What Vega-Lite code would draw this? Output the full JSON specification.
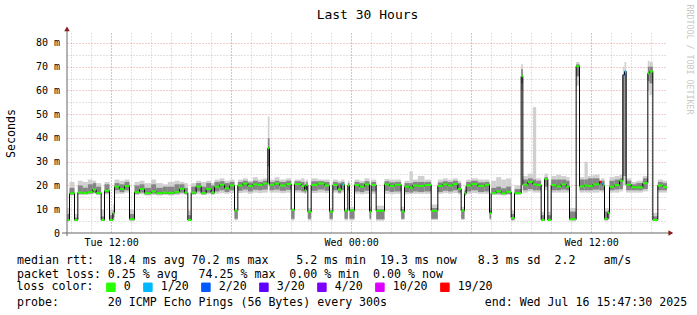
{
  "$schema": "https://vega.github.io/schema/vega-lite/v6.json",
  "width": 600,
  "height": 200,
  "autosize": "none",
  "padding": {"left": 67, "top": 33, "right": 30, "bottom": 82},
  "background": "white",
  "config": {"view": {"stroke": null}, "font": "DejaVu Sans Mono"},
  "data": {
    "format": {"parse": {"t": "utc:'%Y-%m-%d %H:%M'", "e": "utc:'%Y-%m-%d %H:%M'"}},
    "values": [
      {"t":"2025-07-15 09:45","e":"2025-07-15 09:55","m":5.5,"lo":5,"a":5.3,"b":8,"hi":10.5,"l":"0"},
      {"t":"2025-07-15 09:55","e":"2025-07-15 10:10","m":16.7,"lo":15.8,"a":16.2,"b":19,"hi":21.5,"l":"0"},
      {"t":"2025-07-15 10:10","e":"2025-07-15 10:20","m":5.5,"lo":5,"a":5.3,"b":6.5,"hi":8,"l":"0"},
      {"t":"2025-07-15 10:20","e":"2025-07-15 10:35","m":17,"lo":16,"a":16.5,"b":20,"hi":22,"l":"0"},
      {"t":"2025-07-15 10:35","e":"2025-07-15 10:50","m":16.8,"lo":16,"a":16.4,"b":19,"hi":21.5,"l":"0"},
      {"t":"2025-07-15 10:50","e":"2025-07-15 11:05","m":17.2,"lo":16.2,"a":16.6,"b":20.5,"hi":22.5,"l":"0"},
      {"t":"2025-07-15 11:05","e":"2025-07-15 11:15","m":18.3,"lo":16.5,"a":17,"b":21,"hi":22,"l":"0"},
      {"t":"2025-07-15 11:15","e":"2025-07-15 11:30","m":16.8,"lo":16,"a":16.3,"b":19.5,"hi":21,"l":"0"},
      {"t":"2025-07-15 11:30","e":"2025-07-15 11:40","m":5.5,"lo":5,"a":5.3,"b":7,"hi":10,"l":"0"},
      {"t":"2025-07-15 11:40","e":"2025-07-15 11:55","m":17.8,"lo":16.2,"a":16.8,"b":20.5,"hi":21.5,"l":"0"},
      {"t":"2025-07-15 11:55","e":"2025-07-15 12:05","m":5.5,"lo":5,"a":5.3,"b":7.5,"hi":10,"l":"0"},
      {"t":"2025-07-15 12:05","e":"2025-07-15 12:10","m":8.4,"lo":5.5,"a":6.5,"b":9.5,"hi":12,"l":"0"},
      {"t":"2025-07-15 12:10","e":"2025-07-15 12:25","m":19.5,"lo":16.5,"a":18,"b":21,"hi":22.5,"l":"0"},
      {"t":"2025-07-15 12:25","e":"2025-07-15 12:40","m":18.5,"lo":16.5,"a":17.2,"b":20.5,"hi":22,"l":"0"},
      {"t":"2025-07-15 12:40","e":"2025-07-15 12:55","m":19.8,"lo":17,"a":18,"b":21.5,"hi":22.5,"l":"0"},
      {"t":"2025-07-15 12:55","e":"2025-07-15 13:10","m":5.8,"lo":5,"a":5.4,"b":8,"hi":10,"l":"0"},
      {"t":"2025-07-15 13:10","e":"2025-07-15 13:25","m":17.2,"lo":16,"a":16.5,"b":20,"hi":21.5,"l":"0"},
      {"t":"2025-07-15 13:25","e":"2025-07-15 13:40","m":18.5,"lo":16.3,"a":17,"b":20.5,"hi":22,"l":"0"},
      {"t":"2025-07-15 13:40","e":"2025-07-15 14:00","m":16.8,"lo":15.8,"a":16.2,"b":19,"hi":21,"l":"0"},
      {"t":"2025-07-15 14:00","e":"2025-07-15 14:15","m":17.5,"lo":16,"a":16.6,"b":20.5,"hi":22.5,"l":"0"},
      {"t":"2025-07-15 14:15","e":"2025-07-15 14:35","m":16.8,"lo":15.8,"a":16.3,"b":19,"hi":21,"l":"0"},
      {"t":"2025-07-15 14:35","e":"2025-07-15 14:50","m":17,"lo":16,"a":16.4,"b":19.5,"hi":20.5,"l":"0"},
      {"t":"2025-07-15 14:50","e":"2025-07-15 15:10","m":16.9,"lo":15.8,"a":16.3,"b":19.5,"hi":21.5,"l":"0"},
      {"t":"2025-07-15 15:10","e":"2025-07-15 15:25","m":17.3,"lo":16,"a":16.6,"b":20.5,"hi":22,"l":"0"},
      {"t":"2025-07-15 15:25","e":"2025-07-15 15:40","m":18.6,"lo":16.3,"a":17,"b":20.5,"hi":21.5,"l":"0"},
      {"t":"2025-07-15 15:40","e":"2025-07-15 15:50","m":17,"lo":16,"a":16.4,"b":19,"hi":21,"l":"0"},
      {"t":"2025-07-15 15:50","e":"2025-07-15 16:00","m":5.5,"lo":5,"a":5.3,"b":7.5,"hi":9.5,"l":"0"},
      {"t":"2025-07-15 16:00","e":"2025-07-15 16:15","m":17,"lo":16,"a":16.4,"b":19.5,"hi":21,"l":"0"},
      {"t":"2025-07-15 16:15","e":"2025-07-15 16:30","m":19.6,"lo":16.5,"a":17.5,"b":21,"hi":22,"l":"0"},
      {"t":"2025-07-15 16:30","e":"2025-07-15 16:45","m":16.8,"lo":16,"a":16.3,"b":19.5,"hi":21.5,"l":"0"},
      {"t":"2025-07-15 16:45","e":"2025-07-15 17:00","m":18.5,"lo":16.3,"a":17,"b":21,"hi":22,"l":"0"},
      {"t":"2025-07-15 17:00","e":"2025-07-15 17:10","m":17,"lo":16,"a":16.4,"b":20,"hi":21,"l":"0"},
      {"t":"2025-07-15 17:10","e":"2025-07-15 17:25","m":19.5,"lo":16.5,"a":17.5,"b":21.5,"hi":22.5,"l":"0"},
      {"t":"2025-07-15 17:25","e":"2025-07-15 17:40","m":20.3,"lo":16.8,"a":18,"b":21.8,"hi":23,"l":"0"},
      {"t":"2025-07-15 17:40","e":"2025-07-15 17:55","m":18.8,"lo":16.5,"a":17.3,"b":21,"hi":22,"l":"0"},
      {"t":"2025-07-15 17:55","e":"2025-07-15 18:10","m":20,"lo":16.8,"a":18,"b":21.5,"hi":22.5,"l":"0"},
      {"t":"2025-07-15 18:10","e":"2025-07-15 18:20","m":9.4,"lo":5.3,"a":6,"b":9.5,"hi":10.5,"l":"0"},
      {"t":"2025-07-15 18:20","e":"2025-07-15 18:35","m":20,"lo":16.8,"a":17.8,"b":21.5,"hi":22.5,"l":"0"},
      {"t":"2025-07-15 18:35","e":"2025-07-15 18:50","m":20.8,"lo":17,"a":18.3,"b":22,"hi":23,"l":"0"},
      {"t":"2025-07-15 18:50","e":"2025-07-15 19:05","m":19.8,"lo":16.5,"a":17.5,"b":21.3,"hi":22,"l":"0"},
      {"t":"2025-07-15 19:05","e":"2025-07-15 19:20","m":20.5,"lo":17,"a":18.2,"b":22,"hi":23.5,"l":"0"},
      {"t":"2025-07-15 19:20","e":"2025-07-15 19:35","m":20.2,"lo":16.8,"a":18,"b":21.5,"hi":22.5,"l":"0"},
      {"t":"2025-07-15 19:35","e":"2025-07-15 19:50","m":20.8,"lo":17,"a":18.3,"b":22,"hi":23,"l":"0"},
      {"t":"2025-07-15 19:50","e":"2025-07-15 19:55","m":35.7,"lo":20,"a":28,"b":40,"hi":49,"l":"0"},
      {"t":"2025-07-15 19:55","e":"2025-07-15 20:10","m":20.3,"lo":17,"a":18,"b":21.5,"hi":22.5,"l":"0"},
      {"t":"2025-07-15 20:10","e":"2025-07-15 20:25","m":20.8,"lo":17,"a":18.3,"b":22,"hi":23.5,"l":"0"},
      {"t":"2025-07-15 20:25","e":"2025-07-15 20:45","m":20,"lo":16.8,"a":17.8,"b":21.5,"hi":22.5,"l":"0"},
      {"t":"2025-07-15 20:45","e":"2025-07-15 21:00","m":20.6,"lo":17,"a":18.2,"b":22,"hi":23,"l":"0"},
      {"t":"2025-07-15 21:00","e":"2025-07-15 21:10","m":9.7,"lo":5.3,"a":6,"b":9.5,"hi":10.5,"l":"0"},
      {"t":"2025-07-15 21:10","e":"2025-07-15 21:30","m":20.6,"lo":17,"a":18,"b":21.8,"hi":22.5,"l":"0"},
      {"t":"2025-07-15 21:30","e":"2025-07-15 21:40","m":19.8,"lo":16.8,"a":17.5,"b":21.5,"hi":23,"l":"0"},
      {"t":"2025-07-15 21:40","e":"2025-07-15 21:45","m":18,"lo":16.5,"a":17,"b":20.5,"hi":22,"l":"0"},
      {"t":"2025-07-15 21:45","e":"2025-07-15 21:50","m":20.2,"lo":17,"a":18,"b":21.5,"hi":22.5,"l":"0"},
      {"t":"2025-07-15 21:50","e":"2025-07-15 22:00","m":9,"lo":5.3,"a":6,"b":9.5,"hi":10.5,"l":"0"},
      {"t":"2025-07-15 22:00","e":"2025-07-15 22:20","m":20.2,"lo":16.8,"a":17.8,"b":21.8,"hi":23,"l":"0"},
      {"t":"2025-07-15 22:20","e":"2025-07-15 22:40","m":20.8,"lo":17,"a":18.3,"b":21.8,"hi":22.5,"l":"0"},
      {"t":"2025-07-15 22:40","e":"2025-07-15 22:55","m":20,"lo":16.8,"a":17.8,"b":21.5,"hi":22.5,"l":"0"},
      {"t":"2025-07-15 22:55","e":"2025-07-15 23:05","m":9,"lo":5.3,"a":6,"b":9.5,"hi":10.5,"l":"0"},
      {"t":"2025-07-15 23:05","e":"2025-07-15 23:20","m":20.2,"lo":17,"a":18,"b":21.5,"hi":22.5,"l":"0"},
      {"t":"2025-07-15 23:20","e":"2025-07-15 23:30","m":18.3,"lo":16.5,"a":17,"b":21,"hi":22,"l":"0"},
      {"t":"2025-07-15 23:30","e":"2025-07-15 23:35","m":20.5,"lo":17,"a":18,"b":21.5,"hi":22.5,"l":"1/20"},
      {"t":"2025-07-15 23:35","e":"2025-07-15 23:40","m":20.3,"lo":17,"a":18,"b":21.5,"hi":22.5,"l":"0"},
      {"t":"2025-07-15 23:40","e":"2025-07-15 23:50","m":9.3,"lo":5.3,"a":6,"b":9.5,"hi":10.5,"l":"0"},
      {"t":"2025-07-15 23:50","e":"2025-07-15 23:55","m":20,"lo":17,"a":18,"b":21,"hi":22,"l":"0"},
      {"t":"2025-07-15 23:55","e":"2025-07-16 00:10","m":9.5,"lo":5.3,"a":6,"b":10,"hi":11,"l":"0"},
      {"t":"2025-07-16 00:10","e":"2025-07-16 00:25","m":20.2,"lo":16.5,"a":17.5,"b":21.5,"hi":22.5,"l":"0"},
      {"t":"2025-07-16 00:25","e":"2025-07-16 00:40","m":19.5,"lo":16.3,"a":17.2,"b":21,"hi":22,"l":"0"},
      {"t":"2025-07-16 00:40","e":"2025-07-16 00:55","m":20.5,"lo":16.5,"a":17.8,"b":21.8,"hi":23,"l":"0"},
      {"t":"2025-07-16 00:55","e":"2025-07-16 01:00","m":9,"lo":5.5,"a":6,"b":10,"hi":11,"l":"0"},
      {"t":"2025-07-16 01:00","e":"2025-07-16 01:15","m":20.2,"lo":16.5,"a":17.5,"b":21.5,"hi":22.5,"l":"0"},
      {"t":"2025-07-16 01:15","e":"2025-07-16 01:40","m":9.3,"lo":5.2,"a":5.8,"b":10,"hi":11.5,"l":"0"},
      {"t":"2025-07-16 01:40","e":"2025-07-16 01:55","m":20.5,"lo":16.5,"a":17.8,"b":21.8,"hi":22.8,"l":"0"},
      {"t":"2025-07-16 01:55","e":"2025-07-16 02:10","m":19.8,"lo":16.3,"a":17.3,"b":21.3,"hi":22.5,"l":"0"},
      {"t":"2025-07-16 02:10","e":"2025-07-16 02:30","m":20.3,"lo":16.5,"a":17.5,"b":21.5,"hi":22.5,"l":"0"},
      {"t":"2025-07-16 02:30","e":"2025-07-16 02:40","m":9,"lo":5.5,"a":6,"b":10,"hi":11,"l":"0"},
      {"t":"2025-07-16 02:40","e":"2025-07-16 02:55","m":19.5,"lo":16.3,"a":17.2,"b":21,"hi":22,"l":"0"},
      {"t":"2025-07-16 02:55","e":"2025-07-16 03:05","m":19,"lo":16.3,"a":17,"b":21,"hi":26,"l":"0"},
      {"t":"2025-07-16 03:05","e":"2025-07-16 03:20","m":20,"lo":16.5,"a":17.5,"b":21.5,"hi":22.5,"l":"0"},
      {"t":"2025-07-16 03:20","e":"2025-07-16 03:40","m":19.8,"lo":16.5,"a":17.3,"b":21.5,"hi":24,"l":"0"},
      {"t":"2025-07-16 03:40","e":"2025-07-16 04:00","m":20.2,"lo":16.5,"a":17.5,"b":21.5,"hi":22.5,"l":"0"},
      {"t":"2025-07-16 04:00","e":"2025-07-16 04:20","m":9.3,"lo":5.5,"a":6,"b":10.5,"hi":12,"l":"0"},
      {"t":"2025-07-16 04:20","e":"2025-07-16 04:35","m":19.8,"lo":16.5,"a":17.3,"b":21.3,"hi":22.5,"l":"0"},
      {"t":"2025-07-16 04:35","e":"2025-07-16 04:50","m":20.5,"lo":16.8,"a":17.8,"b":21.8,"hi":23,"l":"0"},
      {"t":"2025-07-16 04:50","e":"2025-07-16 05:05","m":20,"lo":16.5,"a":17.5,"b":21.5,"hi":22.5,"l":"0"},
      {"t":"2025-07-16 05:05","e":"2025-07-16 05:20","m":20.6,"lo":16.8,"a":18,"b":22,"hi":23,"l":"0"},
      {"t":"2025-07-16 05:20","e":"2025-07-16 05:30","m":18.5,"lo":16.3,"a":17,"b":21,"hi":22,"l":"0"},
      {"t":"2025-07-16 05:30","e":"2025-07-16 05:40","m":9.4,"lo":5.5,"a":6,"b":10,"hi":11,"l":"0"},
      {"t":"2025-07-16 05:40","e":"2025-07-16 05:45","m":16.7,"lo":15.5,"a":16,"b":18,"hi":19,"l":"0"},
      {"t":"2025-07-16 05:45","e":"2025-07-16 06:00","m":20,"lo":16.5,"a":17.5,"b":21.5,"hi":22.5,"l":"0"},
      {"t":"2025-07-16 06:00","e":"2025-07-16 06:20","m":20.6,"lo":16.8,"a":18,"b":22,"hi":23,"l":"0"},
      {"t":"2025-07-16 06:20","e":"2025-07-16 06:40","m":19.8,"lo":16.5,"a":17.3,"b":21.3,"hi":22.5,"l":"0"},
      {"t":"2025-07-16 06:40","e":"2025-07-16 06:55","m":20.3,"lo":16.5,"a":17.5,"b":21.5,"hi":22.5,"l":"0"},
      {"t":"2025-07-16 06:55","e":"2025-07-16 07:00","m":8.4,"lo":5.5,"a":6,"b":9.5,"hi":10.5,"l":"0"},
      {"t":"2025-07-16 07:00","e":"2025-07-16 07:15","m":16.8,"lo":16,"a":16.4,"b":19,"hi":22,"l":"0"},
      {"t":"2025-07-16 07:15","e":"2025-07-16 07:30","m":17.5,"lo":16,"a":16.6,"b":19.5,"hi":23.5,"l":"0"},
      {"t":"2025-07-16 07:30","e":"2025-07-16 07:45","m":16.7,"lo":15.8,"a":16.3,"b":18.8,"hi":22.5,"l":"0"},
      {"t":"2025-07-16 07:45","e":"2025-07-16 08:00","m":17.3,"lo":16,"a":16.5,"b":19.5,"hi":23,"l":"0"},
      {"t":"2025-07-16 08:00","e":"2025-07-16 08:10","m":6.3,"lo":5,"a":5.5,"b":8,"hi":9.5,"l":"0"},
      {"t":"2025-07-16 08:10","e":"2025-07-16 08:30","m":16.8,"lo":16,"a":16.4,"b":18.5,"hi":20,"l":"0"},
      {"t":"2025-07-16 08:30","e":"2025-07-16 08:35","m":66,"lo":60,"a":63,"b":69,"hi":71,"l":"0"},
      {"t":"2025-07-16 08:35","e":"2025-07-16 08:50","m":20.3,"lo":17,"a":18,"b":22.5,"hi":24,"l":"0"},
      {"t":"2025-07-16 08:50","e":"2025-07-16 09:05","m":21.5,"lo":17.5,"a":18.5,"b":23,"hi":25,"l":"0"},
      {"t":"2025-07-16 09:05","e":"2025-07-16 09:15","m":20.5,"lo":17,"a":18,"b":22.5,"hi":53,"l":"0"},
      {"t":"2025-07-16 09:15","e":"2025-07-16 09:30","m":20.2,"lo":17,"a":18,"b":22,"hi":23,"l":"0"},
      {"t":"2025-07-16 09:30","e":"2025-07-16 09:40","m":5.5,"lo":5,"a":5.3,"b":7.5,"hi":9,"l":"0"},
      {"t":"2025-07-16 09:40","e":"2025-07-16 09:50","m":22.7,"lo":18,"a":19.5,"b":23.5,"hi":25,"l":"0"},
      {"t":"2025-07-16 09:50","e":"2025-07-16 10:00","m":5.5,"lo":5,"a":5.3,"b":7.5,"hi":9,"l":"0"},
      {"t":"2025-07-16 10:00","e":"2025-07-16 10:15","m":20.2,"lo":17,"a":18,"b":22.5,"hi":24,"l":"0"},
      {"t":"2025-07-16 10:15","e":"2025-07-16 10:30","m":19.6,"lo":17,"a":18,"b":22.5,"hi":24.5,"l":"0"},
      {"t":"2025-07-16 10:30","e":"2025-07-16 10:45","m":20.5,"lo":17,"a":18.3,"b":22.5,"hi":24,"l":"0"},
      {"t":"2025-07-16 10:45","e":"2025-07-16 10:55","m":19.5,"lo":17,"a":18,"b":22,"hi":23.5,"l":"0"},
      {"t":"2025-07-16 10:55","e":"2025-07-16 11:15","m":5.8,"lo":5,"a":5.5,"b":9,"hi":10.5,"l":"0"},
      {"t":"2025-07-16 11:15","e":"2025-07-16 11:25","m":70.2,"lo":62,"a":66,"b":71,"hi":72,"l":"0"},
      {"t":"2025-07-16 11:25","e":"2025-07-16 11:40","m":19.6,"lo":17,"a":18,"b":22.5,"hi":23.5,"l":"0"},
      {"t":"2025-07-16 11:40","e":"2025-07-16 11:50","m":20,"lo":17,"a":18,"b":22.5,"hi":30,"l":"0"},
      {"t":"2025-07-16 11:50","e":"2025-07-16 12:05","m":19.8,"lo":17,"a":18,"b":23,"hi":24,"l":"0"},
      {"t":"2025-07-16 12:05","e":"2025-07-16 12:25","m":20.5,"lo":17,"a":18.3,"b":23,"hi":24.5,"l":"0"},
      {"t":"2025-07-16 12:25","e":"2025-07-16 12:30","m":21.6,"lo":17.5,"a":18,"b":21.6,"hi":22,"l":"19/20"},
      {"t":"2025-07-16 12:30","e":"2025-07-16 12:35","m":20.8,"lo":17,"a":18,"b":22,"hi":23,"l":"1/20"},
      {"t":"2025-07-16 12:35","e":"2025-07-16 12:40","m":20,"lo":17,"a":18,"b":22,"hi":23,"l":"0"},
      {"t":"2025-07-16 12:40","e":"2025-07-16 12:50","m":6,"lo":5,"a":5.5,"b":9,"hi":10.5,"l":"0"},
      {"t":"2025-07-16 12:50","e":"2025-07-16 12:55","m":8.5,"lo":5.5,"a":6,"b":9.5,"hi":10.5,"l":"0"},
      {"t":"2025-07-16 12:55","e":"2025-07-16 13:10","m":19.5,"lo":17,"a":18,"b":22,"hi":23.5,"l":"0"},
      {"t":"2025-07-16 13:10","e":"2025-07-16 13:25","m":20.2,"lo":17,"a":18.3,"b":22.5,"hi":24,"l":"0"},
      {"t":"2025-07-16 13:25","e":"2025-07-16 13:35","m":22,"lo":17.5,"a":18.5,"b":23,"hi":24.5,"l":"0"},
      {"t":"2025-07-16 13:35","e":"2025-07-16 13:40","m":66.5,"lo":20,"a":24,"b":66,"hi":70,"l":"2/20"},
      {"t":"2025-07-16 13:40","e":"2025-07-16 13:45","m":68,"lo":20,"a":24,"b":67,"hi":72,"l":"1/20"},
      {"t":"2025-07-16 13:45","e":"2025-07-16 14:00","m":20.3,"lo":17,"a":18,"b":22,"hi":23,"l":"0"},
      {"t":"2025-07-16 14:00","e":"2025-07-16 14:15","m":19.3,"lo":17,"a":18,"b":20.5,"hi":21.5,"l":"0"},
      {"t":"2025-07-16 14:15","e":"2025-07-16 14:35","m":19.2,"lo":17,"a":18,"b":21,"hi":22,"l":"0"},
      {"t":"2025-07-16 14:35","e":"2025-07-16 14:50","m":21,"lo":17.5,"a":18.5,"b":23,"hi":24,"l":"0"},
      {"t":"2025-07-16 14:50","e":"2025-07-16 14:55","m":67.2,"lo":60,"a":64,"b":70,"hi":72.5,"l":"0"},
      {"t":"2025-07-16 14:55","e":"2025-07-16 15:05","m":68,"lo":58,"a":63,"b":70,"hi":72,"l":"0"},
      {"t":"2025-07-16 15:05","e":"2025-07-16 15:20","m":5.5,"lo":5,"a":5.3,"b":7,"hi":8.5,"l":"0"},
      {"t":"2025-07-16 15:20","e":"2025-07-16 15:35","m":20,"lo":17,"a":18,"b":21.5,"hi":22.5,"l":"0"},
      {"t":"2025-07-16 15:35","e":"2025-07-16 15:50","m":19.3,"lo":17,"a":18,"b":21,"hi":22,"l":"0"}
    ]
  },
  "layer": [
    {
      "mark": {"type": "rect", "color": "#d0d0d0", "clip": true},
      "encoding": {
        "x": {"field": "t", "type": "temporal",
          "scale": {"type": "utc", "domain": [1752572850000, 1752680850000]},
          "axis": {"orient": "bottom", "grid": true, "gridColor": "#c4c4c4", "gridDash": [1, 2], "gridWidth": 1,
            "values": [1752573600000, 1752577200000, 1752580800000, 1752584400000, 1752588000000, 1752591600000, 1752595200000, 1752598800000, 1752602400000, 1752606000000, 1752609600000, 1752613200000, 1752616800000, 1752620400000, 1752624000000, 1752627600000, 1752631200000, 1752634800000, 1752638400000, 1752642000000, 1752645600000, 1752649200000, 1752652800000, 1752656400000, 1752660000000, 1752663600000, 1752667200000, 1752670800000, 1752674400000, 1752678000000],
            "labels": false, "ticks": false, "domain": false, "title": null}},
        "x2": {"field": "e"},
        "y": {"field": "lo", "type": "quantitative",
          "scale": {"domain": [0, 84.2], "nice": false, "zero": false},
          "axis": {"orient": "left", "grid": true, "gridColor": "#c4c4c4", "gridDash": [1, 2], "gridWidth": 1, "values": [5, 15, 25, 35, 45, 55, 65, 75], "labels": false, "ticks": false, "domain": false, "title": null}},
        "y2": {"field": "hi"}
      }
    },
    {
      "mark": {"type": "rect", "color": "#858585", "clip": true},
      "encoding": {
        "x": {"field": "t", "type": "temporal",
          "scale": {"type": "utc", "domain": [1752572850000, 1752680850000]},
          "axis": {"orient": "bottom", "grid": true, "gridColor": "#e49a9a", "gridDash": [1, 2], "gridWidth": 1,
            "values": [1752580800000, 1752602400000, 1752624000000, 1752645600000, 1752667200000],
            "labels": false, "ticks": false, "domain": false, "title": null}},
        "x2": {"field": "e"},
        "y": {"field": "a", "type": "quantitative",
          "scale": {"domain": [0, 84.2], "nice": false, "zero": false},
          "axis": {"orient": "left", "grid": true, "gridColor": "#e49a9a", "gridDash": [1, 2], "gridWidth": 1, "values": [10, 20, 30, 40, 50, 60, 70, 80], "labels": false, "ticks": false, "domain": false, "title": null}},
        "y2": {"field": "b"}
      }
    },
    {
      "mark": {"type": "line", "interpolate": "step-after", "color": "#000000", "strokeWidth": 1, "clip": true},
      "encoding": {
        "x": {"field": "t", "type": "temporal",
          "scale": {"type": "utc", "domain": [1752572850000, 1752680850000]},
          "axis": {"orient": "bottom", "grid": false, "values": [1752580800000, 1752624000000, 1752667200000], "labelExpr": "utcFormat(datum.value, '%a %H:%M')", "labelFont": "DejaVu Sans Mono", "labelFontSize": 10, "labelColor": "#000", "labelPadding": 4, "labelFlush": false, "labelOverlap": false, "ticks": false, "domain": false, "title": null}},
        "y": {"field": "m", "type": "quantitative",
          "scale": {"domain": [0, 84.2], "nice": false, "zero": false},
          "axis": {"orient": "left", "grid": false, "values": [0, 10, 20, 30, 40, 50, 60, 70, 80], "labelExpr": "datum.value == 0 ? '0\u00a0\u00a0' : datum.value + ' m'", "labelFont": "DejaVu Sans Mono", "labelFontSize": 10, "labelColor": "#000", "labelPadding": 7.5, "ticks": false, "domain": false,
            "title": "Seconds", "titleFont": "DejaVu Sans Mono", "titleFontSize": 11.6, "titleFontWeight": "normal", "titleColor": "#000", "titleAngle": -90, "titleX": -56, "titleY": 100, "titleAlign": "center", "titleBaseline": "middle"}}
      }
    },
    {
      "mark": {"type": "rule", "strokeWidth": 2, "clip": true},
      "encoding": {
        "x": {"field": "t", "type": "temporal",
          "scale": {"type": "utc", "domain": [1752572850000, 1752680850000]},
          "axis": null},
        "x2": {"field": "e"},
        "y": {"field": "m", "type": "quantitative",
          "scale": {"domain": [0, 84.2], "nice": false, "zero": false},
          "axis": {"orient": "right", "grid": false, "labels": false, "ticks": false, "domain": false,
            "title": "RRDTOOL / TOBI OETIKER", "titleFont": "DejaVu Sans Mono", "titleFontSize": 8.3, "titleFontWeight": "normal", "titleColor": "#c8c8c8", "titleAngle": 90, "titleX": 21, "titleY": 26, "titleAlign": "center", "titleBaseline": "middle"}},
        "color": {"field": "l", "type": "nominal",
          "scale": {"domain": ["0", "1/20", "2/20", "3/20", "4/20", "10/20", "19/20"], "range": ["#26ff00", "#00b8ff", "#0059ff", "#5e00ff", "#7e00ff", "#dd00ff", "#ff0000"]},
          "legend": {"orient": "none", "legendX": -50.4, "legendY": 248, "direction": "horizontal", "title": "loss color:", "titleOrient": "left", "titleFont": "DejaVu Sans Mono", "titleFontSize": 11.6, "titleFontWeight": "normal", "titleColor": "#000", "titlePadding": 11.5, "titleBaseline": "middle",
            "labelFont": "DejaVu Sans Mono", "labelFontSize": 11.6, "labelColor": "#000", "labelOffset": 7,
            "symbolType": "square", "symbolSize": 72, "columnPadding": 10, "padding": 0,
            "encode": {"symbols": {"update": {"fill": {"scale": "color", "field": "value"}, "stroke": {"value": "#000"}, "strokeWidth": {"value": 1}, "opacity": {"value": 1}}}}}}
      }
    },
    {
      "data": {"values": [{}]},
      "mark": {"type": "rule", "color": "#666666", "strokeWidth": 1},
      "encoding": {
        "x": {"datum": 1752572850000, "type": "temporal", "scale": {"type": "utc", "domain": [1752572850000, 1752680850000]},
          "axis": {"orient": "bottom", "grid": false, "labels": false, "ticks": false, "domain": false, "values": [1752580800000],
            "title": ["median\u00a0rtt:\u00a0\u00a018.4\u00a0ms\u00a0avg\u00a070.2\u00a0ms\u00a0max\u00a0\u00a0\u00a0\u00a05.2\u00a0ms\u00a0min\u00a0\u00a019.3\u00a0ms\u00a0now\u00a0\u00a0\u00a08.3\u00a0ms\u00a0sd\u00a0\u00a02.2\u00a0\u00a0\u00a0\u00a0am/s", "packet\u00a0loss:\u00a00.25\u00a0%\u00a0avg\u00a0\u00a0\u00a074.25\u00a0%\u00a0max\u00a0\u00a00.00\u00a0%\u00a0min\u00a0\u00a00.00\u00a0%\u00a0now"],
            "titleFont": "DejaVu Sans Mono", "titleFontSize": 11.6, "titleFontWeight": "normal", "titleColor": "#000", "titleX": -50.4, "titleY": 30, "titleAlign": "left", "titleBaseline": "alphabetic", "titleLineHeight": 14}},
        "y": {"datum": -1.3, "type": "quantitative", "scale": {"domain": [0, 84.2], "nice": false, "zero": false}, "axis": null},
        "y2": {"datum": 86}
      }
    },
    {
      "data": {"values": [{}]},
      "mark": {"type": "rule", "color": "#666666", "strokeWidth": 1},
      "encoding": {
        "x": {"datum": 1752571950000, "type": "temporal", "scale": {"type": "utc", "domain": [1752572850000, 1752680850000]},
          "axis": {"orient": "bottom", "grid": false, "labels": false, "ticks": false, "domain": false, "values": [1752580800000],
            "title": "probe:\u00a0\u00a0\u00a0\u00a0\u00a0\u00a0\u00a020\u00a0ICMP\u00a0Echo\u00a0Pings\u00a0(56\u00a0Bytes)\u00a0every\u00a0300s\u00a0\u00a0\u00a0\u00a0\u00a0\u00a0\u00a0\u00a0\u00a0\u00a0\u00a0\u00a0\u00a0\u00a0end:\u00a0Wed\u00a0Jul\u00a016\u00a015:47:30\u00a02025",
            "titleFont": "DejaVu Sans Mono", "titleFontSize": 11.6, "titleFontWeight": "normal", "titleColor": "#000", "titleX": -50.4, "titleY": 72, "titleAlign": "left", "titleBaseline": "alphabetic", "titleLimit": 2000}},
        "x2": {"datum": 1752681360000},
        "y": {"datum": 0, "type": "quantitative", "scale": {"domain": [0, 84.2], "nice": false, "zero": false}, "axis": null}
      }
    },
    {
      "data": {"values": [{}]},
      "mark": {"type": "point", "shape": "triangle-up", "filled": true, "color": "#8b1a1a", "size": 30, "opacity": 1},
      "encoding": {
        "x": {"datum": 1752572850000, "type": "temporal", "scale": {"type": "utc", "domain": [1752572850000, 1752680850000]},
          "axis": {"orient": "top", "grid": false, "labels": false, "ticks": false, "domain": false, "values": [1752580800000],
            "title": "Last 30 Hours", "titleFont": "DejaVu Sans Mono", "titleFontSize": 13, "titleFontWeight": "normal", "titleColor": "#000", "titleX": 300, "titleY": -15, "titleAlign": "center", "titleBaseline": "alphabetic"}},
        "y": {"datum": 85.9, "type": "quantitative", "scale": {"domain": [0, 84.2], "nice": false, "zero": false}, "axis": null}
      }
    },
    {
      "data": {"values": [{}]},
      "mark": {"type": "point", "shape": "triangle-right", "filled": true, "color": "#8b1a1a", "size": 30, "opacity": 1},
      "encoding": {
        "x": {"datum": 1752681540000, "type": "temporal", "scale": {"type": "utc", "domain": [1752572850000, 1752680850000]}, "axis": null},
        "y": {"datum": 0, "type": "quantitative", "scale": {"domain": [0, 84.2], "nice": false, "zero": false}, "axis": null}
      }
    }
  ],
  "resolve": {"axis": {"x": "independent", "y": "independent"}}
}
